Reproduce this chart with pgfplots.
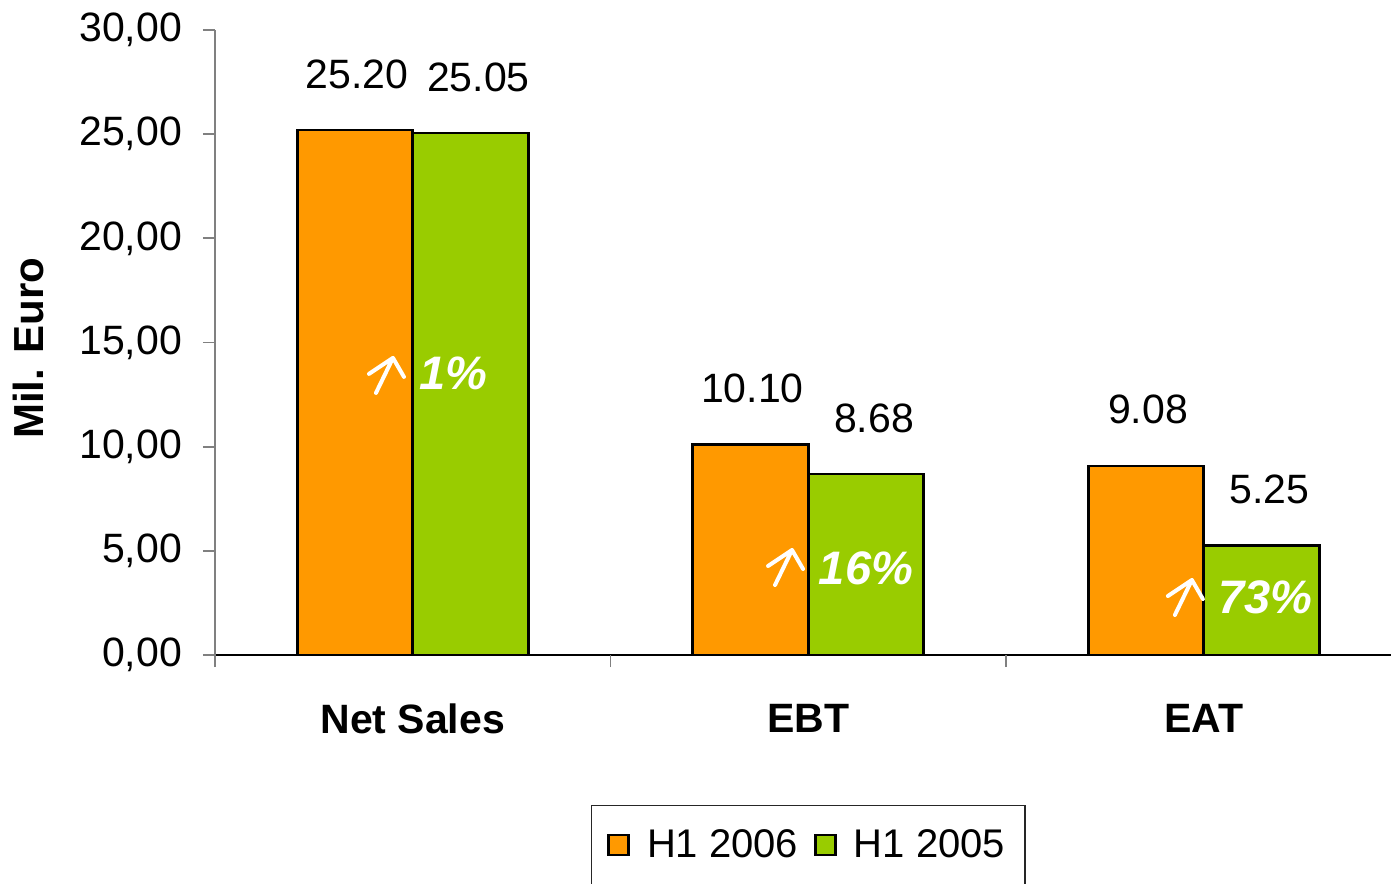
\documentclass[border=0pt]{standalone}
\usepackage{pgfplots}
\pgfplotsset{compat=1.18}
\usepackage{fontspec}
\setmainfont{Liberation Sans}
\definecolor{barorange}{HTML}{FF9900}
\definecolor{bargreen}{HTML}{99CC00}
\definecolor{axisgray}{HTML}{808080}
\begin{document}
\begin{tikzpicture}
\begin{axis}[
  scale only axis,
  width=593.25pt, height=312.5pt,
  xmin=-0.5, xmax=2.5, ymin=0, ymax=30,
  clip=false,
  axis x line*=bottom, axis y line*=left,
  x axis line style={draw=black, line width=0.7pt},
  y axis line style={draw=axisgray, line width=0.9pt},
  ybar=0pt, bar width=57.75pt,
  xtick={0,1,2},
  xticklabels={Net Sales, EBT, EAT},
  xtick style={draw=none},
  extra x ticks={-0.5,0.5,1.5},
  extra x tick labels={},
  extra x tick style={xtick style={draw=axisgray, line width=0.9pt}},
  ytick={0,5,...,30},
  ytick style={draw=axisgray, line width=0.9pt},
  tick align=outside,
  major tick length=6pt,
  yticklabel style={font=\fontsize{20.5}{24}\selectfont, xshift=-7pt,
    /pgf/number format/.cd, fixed, fixed zerofill, precision=2, use comma, assume math mode=true},
  xticklabel style={font=\bfseries\fontsize{20.5}{24}\selectfont, yshift=-15pt},
  ylabel={Mil. Euro},
  ylabel style={at={(axis description cs:-0.157,0.491)}, anchor=center, font=\bfseries\fontsize{21}{24}\selectfont},
  nodes near coords={\pgfmathprintnumber[fixed,fixed zerofill,precision=2,assume math mode=true]{\pgfplotspointmeta}},
  every node near coord/.append style={font=\fontsize{20.5}{24}\selectfont, yshift=16.8pt, text=black},
  legend style={at={(axis description cs:0.5,-0.24)}, anchor=north, legend columns=2,
    draw=black!85, line width=0.6pt, font=\fontsize{20}{24}\selectfont,
    inner xsep=8pt, inner ysep=10pt,
    /tikz/every odd column/.append style={column sep=6.5pt},
    /tikz/every even column/.append style={column sep=6pt}},
  legend image code/.code={\draw[#1, line width=1.3pt] (0pt,-5pt) rectangle (10pt,5pt);},
]
\addplot[fill=barorange, draw=black, line width=1.3pt,
  every node near coord/.append style={xshift=1pt}] coordinates {(0,25.20) (1,10.10) (2,9.08)};
\addplot[fill=bargreen, draw=black, line width=1.3pt,
  every node near coord/.append style={xshift=4pt}] coordinates {(0,25.05) (1,8.68) (2,5.25)};
\legend{H1 2006, H1 2005}
% upward arrows (open chevron heads)
\draw[white, line width=2pt, line cap=round, line join=round]
  ([shift={(-8.5pt,-17.5pt)}]axis cs:-0.050,14.26) -- (axis cs:-0.050,14.26)
  ([shift={(-12pt,-8pt)}]axis cs:-0.050,14.26) -- (axis cs:-0.050,14.26) -- ([shift={(5.5pt,-9.5pt)}]axis cs:-0.050,14.26);
\draw[white, line width=2pt, line cap=round, line join=round]
  ([shift={(-8.5pt,-17.5pt)}]axis cs:0.959,5.04) -- (axis cs:0.959,5.04)
  ([shift={(-12pt,-8pt)}]axis cs:0.959,5.04) -- (axis cs:0.959,5.04) -- ([shift={(5.5pt,-9.5pt)}]axis cs:0.959,5.04);
\draw[white, line width=2pt, line cap=round, line join=round]
  ([shift={(-8.5pt,-17.5pt)}]axis cs:1.970,3.60) -- (axis cs:1.970,3.60)
  ([shift={(-12pt,-8pt)}]axis cs:1.970,3.60) -- (axis cs:1.970,3.60) -- ([shift={(5.5pt,-9.5pt)}]axis cs:1.970,3.60);
\node[font=\bfseries\itshape\fontsize{23.5}{28}\selectfont, text=white] at (axis cs:0.102,13.54) {1\%};
\node[font=\bfseries\itshape\fontsize{23.5}{28}\selectfont, text=white] at (axis cs:1.146,4.18) {16\%};
\node[font=\bfseries\itshape\fontsize{23.5}{28}\selectfont, text=white] at (axis cs:2.155,2.78) {73\%};
\end{axis}
\pgfresetboundingbox
\useasboundingbox (-107.5pt,-114pt) rectangle (588pt,327.5pt);
\end{tikzpicture}
\end{document}
